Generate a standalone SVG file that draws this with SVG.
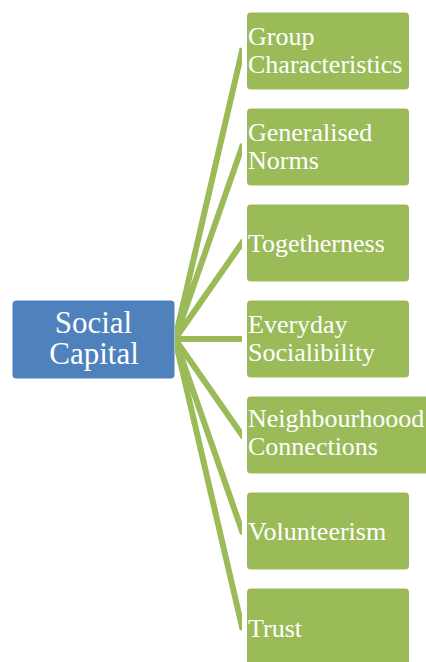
<svg xmlns="http://www.w3.org/2000/svg" width="426" height="662" viewBox="0 0 426 662">
<style>
.child rect{fill:#9BBB59;}
.root rect{fill:#4F81BD;}
text{font-family:"Liberation Serif","Times New Roman",serif;fill:#FFFFFF;}
.child text{font-size:26px;}
.root text{font-size:31px;text-anchor:middle;}
.conn line{stroke:#9BBB59;stroke-width:6;stroke-linecap:square;}
</style>
<defs>
<clipPath id="cc"><rect x="175" y="0" width="67" height="662"/></clipPath>
</defs>
<rect width="426" height="662" fill="#FFFFFF"/>
<g id="connectors" class="conn" clip-path="url(#cc)">
<line x1="175" y1="339" x2="242" y2="51"/>
<line x1="175" y1="339" x2="242" y2="147"/>
<line x1="175" y1="339" x2="242" y2="243"/>
<line x1="175" y1="339" x2="242" y2="339"/>
<line x1="175" y1="339" x2="242" y2="435"/>
<line x1="175" y1="339" x2="242" y2="531"/>
<line x1="175" y1="339" x2="242" y2="627"/>
</g>
<g id="root" class="root">
<rect x="12.5" y="300.5" width="162" height="78" rx="4"/>
<text x="93.5" y="333">Social</text>
<text x="94" y="364">Capital</text>
</g>
<g id="n1" class="child">
<rect x="247" y="12.5" width="162" height="77" rx="4"/>
<text x="248" y="45">Group</text>
<text x="248" y="73">Characteristics</text>
</g>
<g id="n2" class="child">
<rect x="247" y="108.5" width="162" height="77" rx="4"/>
<text x="248" y="141">Generalised</text>
<text x="248" y="169">Norms</text>
</g>
<g id="n3" class="child">
<rect x="247" y="204.5" width="162" height="77" rx="4"/>
<text x="248" y="252">Togetherness</text>
</g>
<g id="n4" class="child">
<rect x="247" y="300.5" width="162" height="77" rx="4"/>
<text x="248" y="333">Everyday</text>
<text x="248" y="361">Socialibility</text>
</g>
<g id="n5" class="child">
<rect x="247" y="396.5" width="190" height="77" rx="4"/>
<text x="248" y="427">Neighbourhoood</text>
<text x="248" y="455">Connections</text>
</g>
<g id="n6" class="child">
<rect x="247" y="492.5" width="162" height="77" rx="4"/>
<text x="248" y="540">Volunteerism</text>
</g>
<g id="n7" class="child">
<rect x="247" y="588.5" width="162" height="90" rx="4"/>
<text x="248" y="637">Trust</text>
</g>
</svg>
